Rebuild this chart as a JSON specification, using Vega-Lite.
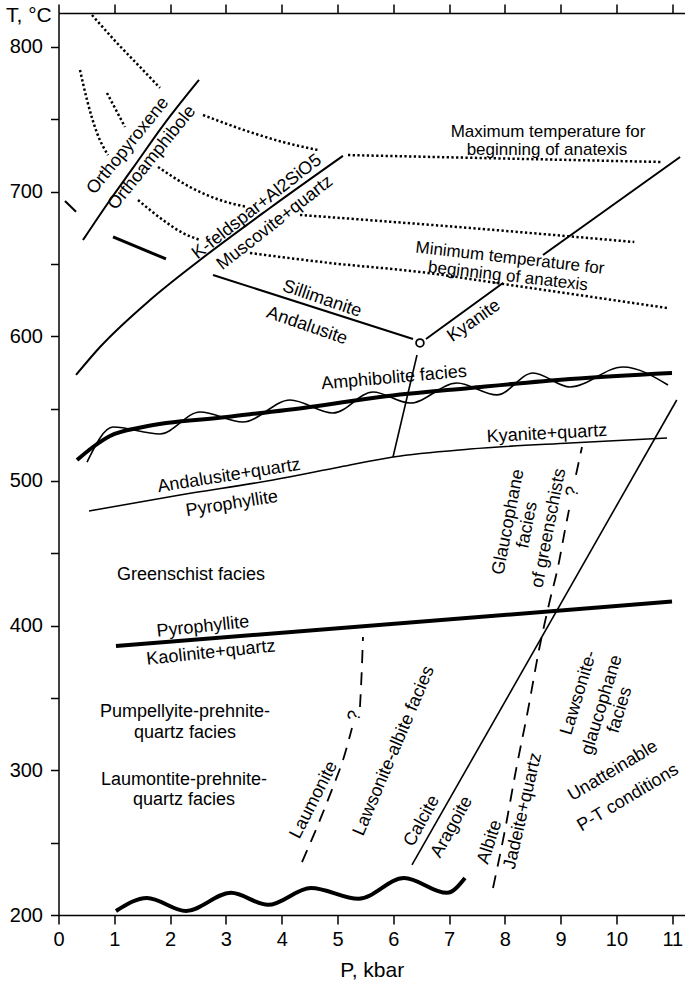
{
  "$schema": "https://vega.github.io/schema/vega-lite/v6.json",
  "width": 626.5,
  "height": 902,
  "autosize": {"type": "none"},
  "padding": {"left": 58.5, "top": 13, "right": 0, "bottom": 72},
  "config": {
    "view": {"stroke": null},
    "font": "Liberation Sans",
    "text": {"font": "Liberation Sans", "fontSize": 18, "color": "black", "align": "center", "baseline": "middle"},
    "line": {"color": "black", "interpolate": "monotone"},
    "axis": {"grid": false, "domainColor": "black", "tickColor": "black", "labelColor": "black", "titleColor": "black", "labelFont": "Liberation Sans", "titleFont": "Liberation Sans", "domainWidth": 1.5, "tickWidth": 1.5}
  },
  "encoding": {
    "x": {"field": "P", "type": "quantitative", "scale": {"domain": [0, 11.228], "nice": false, "zero": false}, "axis": null},
    "y": {"field": "T", "type": "quantitative", "scale": {"domain": [200, 823.5], "nice": false, "zero": false},
      "axis": {"orient": "left", "values": [200, 250, 300, 350, 400, 450, 500, 550, 600, 650, 700, 750, 800], "labelExpr": "datum.value % 100 == 0 ? datum.label : ''", "tickSize": 8, "labelPadding": 8, "labelFontSize": 20, "labelFlush": false, "labelOverlap": false, "title": "T, °C", "titleAngle": 0, "titleX": -53, "titleY": 2, "titleAlign": "left", "titleBaseline": "middle", "titleFontSize": 21, "titleFontWeight": "normal"}}
  },
  "layer": [
    {
      "data": {"values": [
        {"line": "dot1", "P": 0.600, "T": 822.1}, {"line": "dot1", "P": 1.048, "T": 802.8}, {"line": "dot1", "P": 1.461, "T": 786.2}, {"line": "dot1", "P": 1.819, "T": 771.7},
        {"line": "dot2", "P": 0.385, "T": 784.1}, {"line": "dot2", "P": 0.511, "T": 763.4}, {"line": "dot2", "P": 0.690, "T": 740.6}, {"line": "dot2", "P": 0.887, "T": 725.3},
        {"line": "dot3", "P": 0.869, "T": 768.2}, {"line": "dot3", "P": 1.192, "T": 744.7},
        {"line": "dot4", "P": 2.590, "T": 753.0}, {"line": "dot4", "P": 3.432, "T": 741.2}, {"line": "dot4", "P": 4.023, "T": 734.3}, {"line": "dot4", "P": 4.651, "T": 728.8},
        {"line": "dot5a", "P": 1.783, "T": 717.1}, {"line": "dot5a", "P": 2.357, "T": 703.2}, {"line": "dot5a", "P": 2.894, "T": 694.2}, {"line": "dot5a", "P": 3.378, "T": 689.4},
        {"line": "dot5b", "P": 4.328, "T": 683.9}, {"line": "dot5b", "P": 7.375, "T": 674.9}, {"line": "dot5b", "P": 10.319, "T": 665.2},
        {"line": "dot6a", "P": 1.425, "T": 694.2}, {"line": "dot6a", "P": 1.873, "T": 680.4}, {"line": "dot6a", "P": 2.231, "T": 671.4}, {"line": "dot6a", "P": 2.536, "T": 666.6},
        {"line": "minT", "P": 3.432, "T": 657.6}, {"line": "minT", "P": 4.866, "T": 650.7}, {"line": "minT", "P": 6.478, "T": 644.5}, {"line": "minT", "P": 8.091, "T": 635.5}, {"line": "minT", "P": 10.905, "T": 619.6},
        {"line": "maxT", "P": 5.188, "T": 725.3}, {"line": "maxT", "P": 10.815, "T": 720.5}
      ]},
      "mark": {"type": "line", "strokeWidth": 2.5, "strokeDash": [2.3, 2.4]},
      "encoding": {
        "x": {"field": "P", "type": "quantitative", "scale": {"domain": [0, 11.228], "nice": false, "zero": false},
          "axis": {"orient": "bottom", "values": [0, 1, 2, 3, 4, 5, 6, 7, 8, 9, 10, 11], "tickSize": 9, "labelPadding": 5, "labelFontSize": 20, "labelFlush": false, "labelOverlap": false, "title": "P, kbar", "titleFontSize": 21, "titleFontWeight": "normal", "titlePadding": 10}},
        "detail": {"field": "line"}
      }
    },
    {
      "data": {"values": [
        {"line": "ortho", "P": 0.439, "T": 666.6}, {"line": "ortho", "P": 0.887, "T": 692.2}, {"line": "ortho", "P": 1.335, "T": 716.4}, {"line": "ortho", "P": 1.909, "T": 747.5}, {"line": "ortho", "P": 2.518, "T": 777.2},
        {"line": "kfs", "P": 0.314, "T": 573.3}, {"line": "kfs", "P": 0.744, "T": 592.6}, {"line": "kfs", "P": 1.640, "T": 625.1}, {"line": "kfs", "P": 2.536, "T": 652.8}, {"line": "kfs", "P": 3.790, "T": 688.7}, {"line": "kfs", "P": 5.098, "T": 724.7},
        {"line": "sill", "P": 2.769, "T": 642.4}, {"line": "sill", "P": 6.353, "T": 598.2},
        {"line": "ky1", "P": 6.586, "T": 598.2}, {"line": "ky1", "P": 7.966, "T": 636.9},
        {"line": "ky2", "P": 8.683, "T": 656.2}, {"line": "ky2", "P": 11.140, "T": 724.0},
        {"line": "s1", "P": 0.116, "T": 693.6}, {"line": "s1", "P": 0.314, "T": 686.1}
      ]},
      "mark": {"type": "line", "strokeWidth": 2},
      "encoding": {"detail": {"field": "line"}}
    },
    {
      "data": {"values": [
        {"line": "s2", "P": 0.977, "T": 668.7}, {"line": "s2", "P": 1.926, "T": 653.5}
      ]},
      "mark": {"type": "line", "strokeWidth": 3},
      "encoding": {"detail": {"field": "line"}}
    },
    {
      "data": {"values": [
        {"line": "andky", "P": 0.547, "T": 479.3}, {"line": "andky", "P": 2.177, "T": 490.3}, {"line": "andky", "P": 3.844, "T": 500.7}, {"line": "andky", "P": 5.045, "T": 509.7}, {"line": "andky", "P": 5.995, "T": 516.6}, {"line": "andky", "P": 7.375, "T": 522.1}, {"line": "andky", "P": 9.167, "T": 526.3}, {"line": "andky", "P": 10.905, "T": 529.7},
        {"line": "vert", "P": 5.995, "T": 516.6}, {"line": "vert", "P": 6.425, "T": 587.1},
        {"line": "calcite", "P": 6.335, "T": 234.6}, {"line": "calcite", "P": 11.08, "T": 556.0},
        {"line": "wavy", "P": 0.511, "T": 513.1}, {"line": "wavy", "P": 0.977, "T": 537.3}, {"line": "wavy", "P": 1.819, "T": 532.5}, {"line": "wavy", "P": 2.536, "T": 547.7}, {"line": "wavy", "P": 3.306, "T": 540.8}, {"line": "wavy", "P": 4.149, "T": 556.0}, {"line": "wavy", "P": 4.919, "T": 547.0}, {"line": "wavy", "P": 5.636, "T": 561.5}, {"line": "wavy", "P": 6.299, "T": 553.9}, {"line": "wavy", "P": 7.142, "T": 567.7}, {"line": "wavy", "P": 7.858, "T": 559.5}, {"line": "wavy", "P": 8.504, "T": 574.7}, {"line": "wavy", "P": 9.167, "T": 565.0}, {"line": "wavy", "P": 10.117, "T": 578.8}, {"line": "wavy", "P": 10.923, "T": 566.4}
      ]},
      "mark": {"type": "line", "strokeWidth": 1.6},
      "encoding": {"detail": {"field": "line"}}
    },
    {
      "data": {"values": [
        {"line": "amph", "P": 0.332, "T": 514.5}, {"line": "amph", "P": 0.618, "T": 523.5}, {"line": "amph", "P": 0.923, "T": 531.1}, {"line": "amph", "P": 1.514, "T": 537.3}, {"line": "amph", "P": 3.020, "T": 544.2}, {"line": "amph", "P": 4.507, "T": 551.2}, {"line": "amph", "P": 5.762, "T": 558.1}, {"line": "amph", "P": 7.375, "T": 564.3}, {"line": "amph", "P": 9.167, "T": 570.5}, {"line": "amph", "P": 10.995, "T": 574.7},
        {"line": "pyro", "P": 1.030, "T": 385.9}, {"line": "pyro", "P": 10.995, "T": 416.7},
        {"line": "bwave", "P": 1.030, "T": 202.8}, {"line": "bwave", "P": 1.586, "T": 211.8}, {"line": "bwave", "P": 2.285, "T": 202.8}, {"line": "bwave", "P": 3.091, "T": 215.3}, {"line": "bwave", "P": 3.755, "T": 207.0}, {"line": "bwave", "P": 4.524, "T": 218.7}, {"line": "bwave", "P": 5.379, "T": 211.2}, {"line": "bwave", "P": 6.192, "T": 225.6}, {"line": "bwave", "P": 6.962, "T": 215.3}, {"line": "bwave", "P": 7.285, "T": 225.6}
      ]},
      "mark": {"type": "line", "strokeWidth": 4},
      "encoding": {"detail": {"field": "line"}}
    },
    {
      "data": {"values": [
        {"line": "laum1", "P": 5.403, "T": 343.8}, {"line": "laum1", "P": 5.439, "T": 372.8}, {"line": "laum1", "P": 5.457, "T": 392.2},
        {"line": "laum2", "P": 4.364, "T": 236.6}, {"line": "laum2", "P": 4.686, "T": 265.7}, {"line": "laum2", "P": 4.919, "T": 288.5}, {"line": "laum2", "P": 5.099, "T": 307.2}, {"line": "laum2", "P": 5.260, "T": 329.3},
        {"line": "jad1", "P": 7.787, "T": 218.7}, {"line": "jad1", "P": 8.002, "T": 258.8}, {"line": "jad1", "P": 8.199, "T": 300.2}, {"line": "jad1", "P": 8.414, "T": 341.7}, {"line": "jad1", "P": 8.611, "T": 383.2}, {"line": "jad1", "P": 8.808, "T": 417.7}, {"line": "jad1", "P": 8.952, "T": 440.6}, {"line": "jad1", "P": 9.077, "T": 466.1}, {"line": "jad1", "P": 9.149, "T": 480.0},
        {"line": "jad2", "P": 9.274, "T": 504.2}, {"line": "jad2", "P": 9.382, "T": 523.5}
      ]},
      "mark": {"type": "line", "strokeWidth": 1.8, "strokeDash": [13, 9]},
      "encoding": {"detail": {"field": "line"}}
    },
    {
      "data": {"values": [{"P": 6.478, "T": 595.4}]},
      "mark": {"type": "point", "shape": "circle", "filled": false, "size": 60, "strokeWidth": 1.8, "color": "black", "opacity": 1},
      "encoding": {
        "x": {"field": "P", "type": "quantitative", "scale": {"domain": [0, 11.228], "nice": false, "zero": false},
          "axis": {"orient": "top", "values": [0, 1, 2, 3, 4, 5, 6, 7, 8, 9, 10, 11], "tickSize": 9, "labels": false, "title": null}}
      }
    },
    {
      "data": {"values": [
        {"P": 8.773, "T": 741.0, "label": "Maximum temperature for"},
        {"P": 8.755, "T": 728.5, "label": "beginning of anatexis"}
      ]},
      "mark": {"type": "text", "angle": 0, "fontSize": 17},
      "encoding": {"text": {"field": "label"}}
    },
    {
      "data": {"values": [
        {"P": 2.375, "T": 435.0, "label": "Greenschist facies"},
        {"P": 2.267, "T": 340.3, "label": "Pumpellyite-prehnite-"},
        {"P": 2.267, "T": 325.8, "label": "quartz facies"},
        {"P": 2.249, "T": 293.3, "label": "Laumontite-prehnite-"},
        {"P": 2.249, "T": 279.5, "label": "quartz facies"}
      ]},
      "mark": {"type": "text", "angle": 0},
      "encoding": {"text": {"field": "label"}}
    },
    {
      "data": {"values": [
        {"P": 1.245, "T": 731.6, "label": "Orthopyroxene"},
        {"P": 1.676, "T": 723.3, "label": "Orthoamphibole"}
      ]},
      "mark": {"type": "text", "angle": -51},
      "encoding": {"text": {"field": "label"}}
    },
    {
      "data": {"values": [
        {"P": 3.557, "T": 689.4, "label": "K-feldspar+Al2SiO5"},
        {"P": 3.880, "T": 678.3, "label": "Muscovite+quartz"}
      ]},
      "mark": {"type": "text", "angle": -38},
      "encoding": {"text": {"field": "label"}}
    },
    {
      "data": {"values": [
        {"P": 4.722, "T": 625.8, "label": "Sillimanite"},
        {"P": 4.453, "T": 607.1, "label": "Andalusite"}
      ]},
      "mark": {"type": "text", "angle": 19},
      "encoding": {"text": {"field": "label"}}
    },
    {
      "data": {"values": [
        {"P": 7.446, "T": 610.6, "label": "Kyanite"}
      ]},
      "mark": {"type": "text", "angle": -35},
      "encoding": {"text": {"field": "label"}}
    },
    {
      "data": {"values": [
        {"P": 8.091, "T": 654.0, "label": "Minimum temperature for"},
        {"P": 8.056, "T": 641.5, "label": "beginning of anatexis"}
      ]},
      "mark": {"type": "text", "angle": 6.5, "fontSize": 17},
      "encoding": {"text": {"field": "label"}}
    },
    {
      "data": {"values": [
        {"P": 6.013, "T": 571.2, "label": "Amphibolite facies"}
      ]},
      "mark": {"type": "text", "angle": -5},
      "encoding": {"text": {"field": "label"}}
    },
    {
      "data": {"values": [
        {"P": 8.755, "T": 532.5, "label": "Kyanite+quartz"}
      ]},
      "mark": {"type": "text", "angle": -3},
      "encoding": {"text": {"field": "label"}}
    },
    {
      "data": {"values": [
        {"P": 3.056, "T": 503.5, "label": "Andalusite+quartz"},
        {"P": 3.109, "T": 484.1, "label": "Pyrophyllite"}
      ]},
      "mark": {"type": "text", "angle": -9},
      "encoding": {"text": {"field": "label"}}
    },
    {
      "data": {"values": [
        {"P": 2.589, "T": 399.1, "label": "Pyrophyllite"},
        {"P": 2.733, "T": 381.1, "label": "Kaolinite+quartz"}
      ]},
      "mark": {"type": "text", "angle": -6},
      "encoding": {"text": {"field": "label"}}
    },
    {
      "data": {"values": [
        {"P": 4.579, "T": 279.5, "label": "Laumonite"}
      ]},
      "mark": {"type": "text", "angle": -63},
      "encoding": {"text": {"field": "label"}}
    },
    {
      "data": {"values": [
        {"P": 6.013, "T": 313.4, "label": "Lawsonite-albite facies"}
      ]},
      "mark": {"type": "text", "angle": -67},
      "encoding": {"text": {"field": "label"}}
    },
    {
      "data": {"values": [
        {"P": 6.514, "T": 265.0, "label": "Calcite"},
        {"P": 7.052, "T": 260.8, "label": "Aragoite"}
      ]},
      "mark": {"type": "text", "angle": -61},
      "encoding": {"text": {"field": "label"}}
    },
    {
      "data": {"values": [
        {"P": 7.733, "T": 250.4, "label": "Albite"}
      ]},
      "mark": {"type": "text", "angle": -72},
      "encoding": {"text": {"field": "label"}}
    },
    {
      "data": {"values": [
        {"P": 8.324, "T": 271.9, "label": "Jadeite+quartz"}
      ]},
      "mark": {"type": "text", "angle": -77},
      "encoding": {"text": {"field": "label"}}
    },
    {
      "data": {"values": [
        {"P": 8.064, "T": 471.7, "label": "Glaucophane"},
        {"P": 8.405, "T": 469.6, "label": "facies"},
        {"P": 8.790, "T": 467.5, "label": "of greenschists"}
      ]},
      "mark": {"type": "text", "angle": -79},
      "encoding": {"text": {"field": "label"}}
    },
    {
      "data": {"values": [
        {"P": 9.328, "T": 353.5, "label": "Lawsonite-"},
        {"P": 9.740, "T": 345.2, "label": "glaucophane"},
        {"P": 10.063, "T": 341.7, "label": "facies"}
      ]},
      "mark": {"type": "text", "angle": -73},
      "encoding": {"text": {"field": "label"}}
    },
    {
      "data": {"values": [
        {"P": 9.937, "T": 299.5, "label": "Unatteinable"},
        {"P": 10.206, "T": 280.9, "label": "P-T conditions"}
      ]},
      "mark": {"type": "text", "angle": -31},
      "encoding": {"text": {"field": "label"}}
    },
    {
      "data": {"values": [
        {"P": 5.314, "T": 337.6, "label": "?"},
        {"P": 9.221, "T": 492.4, "label": "?"}
      ]},
      "mark": {"type": "text", "angle": -75},
      "encoding": {"text": {"field": "label"}}
    }
  ]
}
